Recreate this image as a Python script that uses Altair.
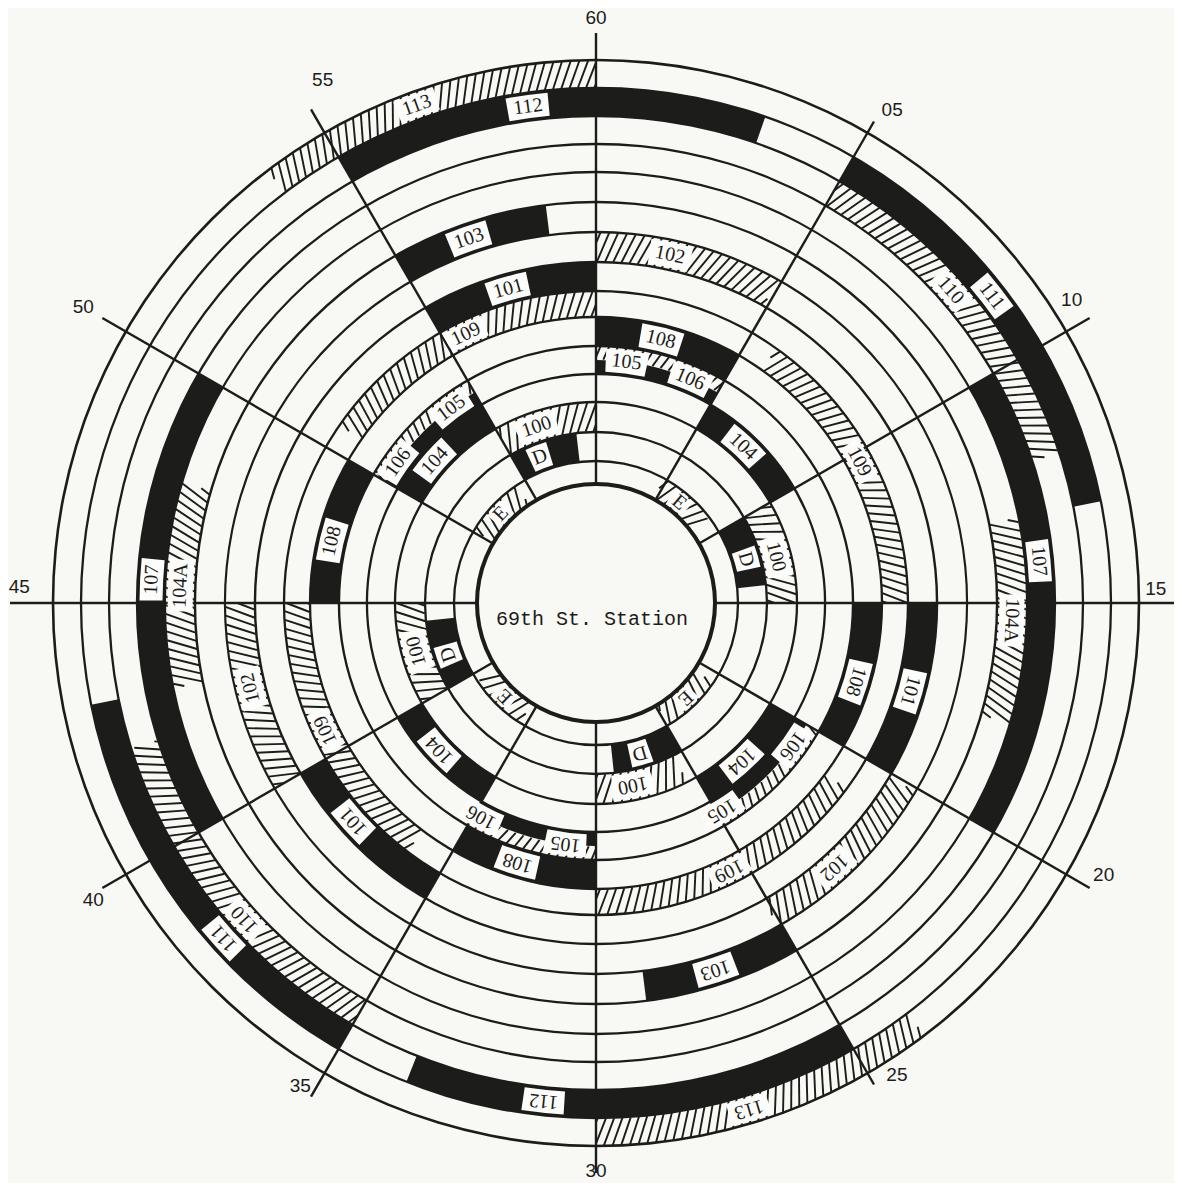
import math
import altair as alt
import pandas as pd

# ---------------- data ----------------
# ring boundaries (radius), ring 1 = innermost
ring_edges = [119, 142, 171, 201, 229, 257, 286, 312, 341, 371, 401, 431, 459, 487, 515, 543]

# solid (black) blocks: route, ring, start minute, end minute, label minute
solid_route = ["112", "112", "111", "111", "107", "107", "103", "103", "101", "101", "101",
               "108", "108", "108", "108", "105", "105", "105", "105",
               "104", "104", "104", "104", "D", "D", "D", "D"]
solid_ring = [14, 14, 14, 14, 12, 12, 10, 10, 8, 8, 8, 6, 6, 6, 6, 5, 5, 5, 5, 4, 4, 4, 4, 2, 2, 2, 2]
solid_start = [55.0, 25.0, 5.0, 35.0, 10.0, 40.0, 55.0, 25.0, 55.0, 15.0, 35.0,
               0.0, 15.0, 30.0, 45.0, 50.0, 0.0, 20.0, 30.0,
               50.0, 5.0, 20.0, 35.0, 55.0, 10.0, 25.0, 40.0]
solid_end = [3.2, 33.6, 13.1, 43.1, 20.0, 50.0, 58.8, 28.8, 60.0, 20.0, 40.0,
             5.0, 20.0, 35.0, 50.0, 55.0, 5.0, 25.0, 35.0,
             55.0, 10.0, 25.0, 40.0, 58.9, 14.0, 29.0, 44.0]
solid_label = [58.7, 31.0, 8.7, 38.0, 14.1, 45.5, 56.8, 27.0, 57.4, 17.6, 38.0,
               2.3, 17.8, 32.8, 47.2, 53.9, 1.2, 24.8, 31.2,
               51.9, 7.2, 22.9, 37.8, 56.5, 12.3, 27.3, 41.8]

# hatched blocks
hatch_route = ["113", "113", "110", "110", "104A", "104A", "102", "102", "102",
               "109", "109", "109", "109", "106", "106", "106", "106",
               "100", "100", "100", "100", "E", "E", "E", "E"]
hatch_ring = [15, 15, 13, 13, 11, 11, 9, 9, 9, 7, 7, 7, 7, 5, 5, 5, 5, 3, 3, 3, 3, 1, 1, 1, 1]
hatch_start = [53.8, 23.8, 5.0, 35.0, 13.1, 43.1, 0.0, 20.1, 40.0,
               50.8, 5.9, 21.1, 36.2, 50.0, 0.0, 20.0, 30.0,
               55.0, 10.0, 25.5, 40.0, 50.1, 4.8, 20.7, 35.4]
hatch_end = [60.0, 30.0, 12.0, 42.1, 17.7, 47.7, 4.9, 25.1, 45.0,
             60.0, 15.0, 30.0, 45.0, 55.0, 5.0, 25.0, 35.0,
             60.0, 15.0, 30.0, 45.0, 54.3, 8.8, 24.9, 39.4]
hatch_label = [56.7, 27.2, 8.1, 38.0, 15.4, 45.4, 2.0, 23.0, 42.7,
               55.7, 10.3, 25.6, 40.8, 50.9, 3.8, 21.0, 34.7,
               56.9, 12.6, 28.1, 42.5, 52.2, 6.6, 22.8, 37.4]

tick_minutes = [0, 5, 10, 15, 20, 25, 30, 35, 40, 45, 50, 55]
tick_text = ["60", "05", "10", "15", "20", "25", "30", "35", "40", "45", "50", "55"]
center_text = "69th St. Station"

# ---------------- style ----------------
INK = "#1c1c1a"
PAPER = "#f8f8f4"
W, H = 1166, 1175
HALF = {"105": "inner", "106": "outer"}          # routes sharing ring 5
TICK_LABEL_POS = {0: (585, 0), 5: (575, 31.0), 10: (564, 57.5), 15: (560, 88.6),
                  20: (576, 118.2), 25: (560, 147.5), 30: (568, 180), 35: (566, 211.5),
                  40: (584, 239.4), 45: (577, 271.6), 50: (592, 300), 55: (590, 332.4)}
LINE_END = {5: 556, 15: 579, 25: 556, 45: 586}

XS = alt.Scale(domain=[-588, 578], nice=False, zero=False)
YS = alt.Scale(domain=[-580, 595], nice=False, zero=False)
TS = alt.Scale(domain=[0, 60], range=[0, 2 * math.pi])
RS = alt.Scale(type="linear", domain=[0, 600], range=[0, 600], zero=True, nice=False)


def ring_span(route, ring):
    r0, r1 = ring_edges[ring - 1], ring_edges[ring]
    mid = (r0 + r1) / 2
    side = HALF.get(route)
    if side == "inner":
        return r0, mid
    if side == "outer":
        return mid, r1
    return r0, r1


def unwrap(a0, a1):
    return (a0, a1 + 60) if a1 <= a0 else (a0, a1)


def polar(r, minute):
    t = minute * 2 * math.pi / 60
    return r * math.sin(t), r * math.cos(t)


def block_frame(routes, rings, starts, ends):
    rows = []
    for rt, rg, a0, a1 in zip(routes, rings, starts, ends):
        a0, a1 = unwrap(a0, a1)
        r0, r1 = ring_span(rt, rg)
        rows.append(dict(route=rt, t0=a0, t1=a1, r0=r0, r1=r1, cx=0, cy=0))
    return pd.DataFrame(rows)


solid_df = block_frame(solid_route, solid_ring, solid_start, solid_end)
hatch_df = block_frame(hatch_route, hatch_ring, hatch_start, hatch_end)

# hatch strokes inside each hatched block
SPACING, TILT = 8.5, 22
hrows = []
for _, b in hatch_df.iterrows():
    r0, r1 = b.r0 + 0.5, b.r1 - 0.5
    rm = (r0 + r1) / 2
    ppm = rm * 2 * math.pi / 60
    shift = (r1 - r0) * math.tan(math.radians(TILT)) / ppm
    step = SPACING / ppm
    ai = b.t0 - shift + step / 2
    while ai < b.t1:
        ta = max(0.0, (b.t0 - ai) / shift)
        tb = min(1.0, (b.t1 - ai) / shift)
        if tb > ta:
            xa, ya = polar(r0 + ta * (r1 - r0), ai + ta * shift)
            xb, yb = polar(r0 + tb * (r1 - r0), ai + tb * shift)
            hrows.append(dict(x=xa, y=ya, x2=xb, y2=yb))
        ai += step
hatch_lines = pd.DataFrame(hrows)

# ring circles
circ_rows = []
for i, r in enumerate(ring_edges):
    w = 4.0 if i == 0 else (2.6 if i == len(ring_edges) - 1 else 2.3)
    circ_rows.append(dict(t0=0, t1=60, r0=r - w / 2, r1=r + w / 2, cx=0, cy=0))
circ_df = pd.DataFrame(circ_rows)

# radial lines
rad_rows = []
for m in tick_minutes:
    x0, y0 = polar(ring_edges[0], m)
    x1, y1 = polar(LINE_END.get(m, 570), m)
    rad_rows.append(dict(x=x0, y=y0, x2=x1, y2=y1))
rad_df = pd.DataFrame(rad_rows)

# labels and their boxes
lab_rows, box_rows = [], []
for routes, rings, labs in ((solid_route, solid_ring, solid_label), (hatch_route, hatch_ring, hatch_label)):
    for rt, rg, lm in zip(routes, rings, labs):
        r0, r1 = ring_edges[rg - 1], ring_edges[rg]
        rm = (r0 + r1) / 2
        x, y = polar(rm, lm)
        lab_rows.append(dict(x=x, y=y, label=rt, ang=(lm * 6) % 360))
        wpx = 10.5 * len(rt) + 10
        half = wpx / 2 / (rm * 2 * math.pi / 60)
        box_rows.append(dict(t0=lm - half, t1=lm + half, r0=r0 + 2.5, r1=r1 - 2.5, cx=0, cy=0))
lab_df = pd.DataFrame(lab_rows)
box_df = pd.DataFrame(box_rows)

tick_rows = []
for m, s in zip(tick_minutes, tick_text):
    r, deg = TICK_LABEL_POS[m]
    x, y = polar(r, deg / 6)
    tick_rows.append(dict(x=x, y=y, label=s))
tick_df = pd.DataFrame(tick_rows)

center_df = pd.DataFrame([dict(x=-4, y=-16, label=center_text)])


def arc_layer(df, **mark):
    return alt.Chart(df).mark_arc(**mark).encode(
        theta=alt.Theta("t0:Q", scale=TS, stack=False),
        theta2="t1:Q",
        radius=alt.Radius("r0:Q", scale=RS),
        radius2="r1:Q",
        x=alt.X("cx:Q", scale=XS, axis=None),
        y=alt.Y("cy:Q", scale=YS, axis=None),
    )


def rule_layer(df, **mark):
    return alt.Chart(df).mark_rule(**mark).encode(
        x=alt.X("x:Q", scale=XS, axis=None),
        y=alt.Y("y:Q", scale=YS, axis=None),
        x2="x2:Q",
        y2="y2:Q",
    )


def text_layer(df, with_angle=False, **mark):
    enc = dict(
        x=alt.X("x:Q", scale=XS, axis=None),
        y=alt.Y("y:Q", scale=YS, axis=None),
        text="label:N",
    )
    if with_angle:
        enc["angle"] = alt.Angle("ang:Q", scale=None)
    return alt.Chart(df).mark_text(**mark).encode(**enc)


layers = [
    arc_layer(solid_df, fill=INK),
    rule_layer(hatch_lines, color=INK, strokeWidth=1.9),
    arc_layer(circ_df, fill=INK),
    rule_layer(rad_df, color=INK, strokeWidth=2.4),
    arc_layer(box_df, fill="#fcfcfa"),
    text_layer(lab_df, with_angle=True, font="Liberation Serif", fontSize=20,
               color=INK, align="center", baseline="middle"),
    text_layer(tick_df, font="Liberation Sans", fontSize=19, color=INK,
               align="center", baseline="middle"),
    text_layer(center_df, font="Liberation Mono", fontSize=20, color=INK,
               align="center", baseline="middle"),
]

chart = alt.layer(*layers).properties(
    width=W, height=H, padding=0, background=PAPER,
    autosize=alt.AutoSizeParams(type="none"),
).configure_view(stroke="transparent")

chart.save("out.html", embed_options={"renderer": "svg", "actions": False})
